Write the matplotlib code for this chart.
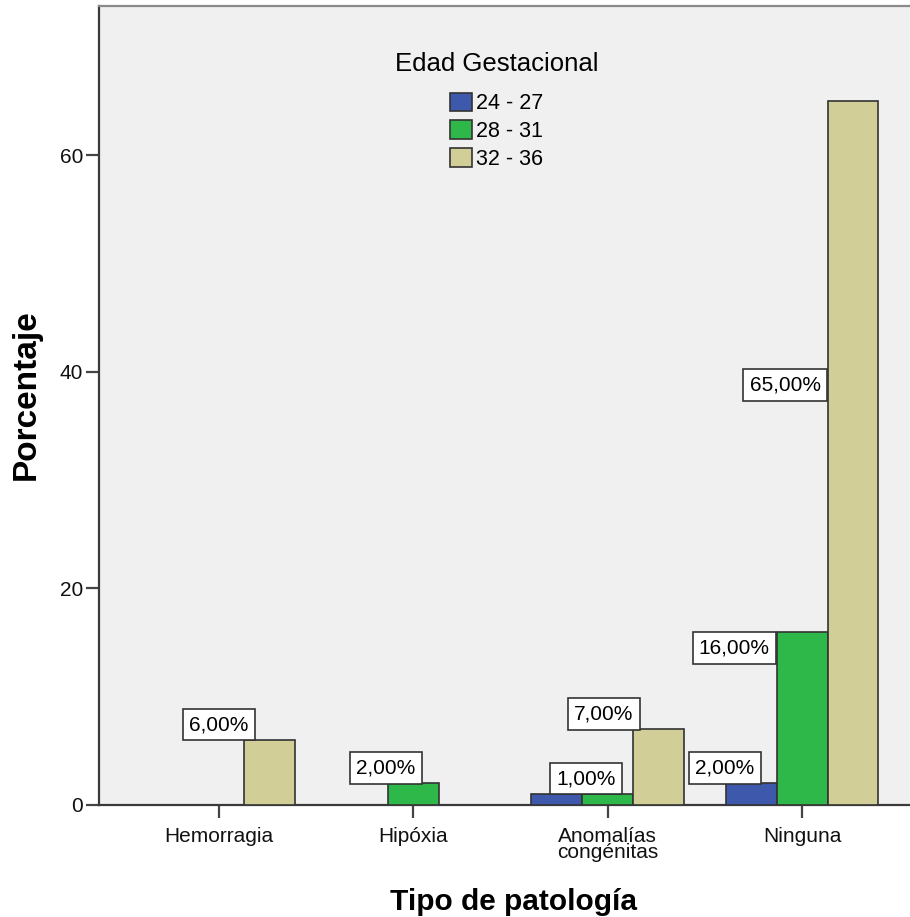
import numpy as np
import matplotlib.pyplot as plt

# Porcentaje de casos por tipo de patología y edad gestacional
patologias = ['Hemorragia', 'Hipóxia', 'Anomalías\ncongénitas', 'Ninguna']
grupos_edad = ['24 - 27', '28 - 31', '32 - 36']
pct_24_27 = [0, 0, 1, 2]
pct_28_31 = [0, 2, 1, 16]
pct_32_36 = [6, 0, 7, 65]

colores = ['#3e58ab', '#2eb84a', '#d2ce98']
FONDO = '#f0f0f0'
BORDE = '#333333'

plt.rcParams['font.family'] = ['Liberation Sans', 'DejaVu Sans']

fig = plt.figure(figsize=(9.1, 9.17), dpi=100)
W, H = 910, 917
# el eje derecho queda fuera del lienzo, como en la salida original
ax = fig.add_axes([99 / W, (H - 805) / H, (929 - 99) / W, (805 - 6) / H])
ax.set_facecolor(FONDO)

x = np.arange(len(patologias))
ancho = 0.262
series = [pct_24_27, pct_28_31, pct_32_36]

# colocación de las etiquetas: (desplazamiento x desde el borde izq. de la barra, modo)
# las etiquetas que se solapan con otra igual se omiten
ajustes = {
    (0, 2): (-0.13, 'encima'),
    (1, 1): (-0.01, 'encima'),
    (2, 0): (0.0, 'omitir'),
    (2, 1): (0.02, 'encima'),
    (2, 2): (-0.15, 'encima'),
    (3, 0): (-0.005, 'encima'),
    (3, 1): (0.0, 'lado'),
    (3, 2): (0.0, 'medio'),
}

for s, valores in enumerate(series):
    for i, v in enumerate(valores):
        if v <= 0:
            continue
        izq = x[i] + (s - 1) * ancho - ancho / 2
        ax.bar(izq, v, width=ancho, align='edge', color=colores[s],
               edgecolor=BORDE, linewidth=1.2, zorder=3)
        dx, modo = ajustes.get((i, s), (0.0, 'encima'))
        texto = f'{v:.2f}'.replace('.', ',') + '%'
        caja = dict(boxstyle='square,pad=0.3', facecolor='white',
                    edgecolor=BORDE, linewidth=1.2)
        if modo == 'encima':
            ax.text(izq + dx, v + 0.55, texto, ha='center', va='bottom',
                    fontsize=15, bbox=caja, zorder=4)
        elif modo == 'lado':
            ax.text(izq - 0.035, v - 0.6, texto, ha='right', va='top',
                    fontsize=15, bbox=caja, zorder=4)
        elif modo == 'medio':
            ax.text(izq - 0.035, v * 0.597, texto, ha='right', va='center',
                    fontsize=15, bbox=caja, zorder=4)

ax.set_xlim(-0.617, 3.653)
ax.set_ylim(0, 73.8)
ax.set_xticks(x)
ax.set_xticklabels(patologias, fontsize=15, linespacing=0.85)
ax.set_yticks([0, 20, 40, 60])
ax.tick_params(axis='both', direction='out', length=9.5, width=1.6,
               color='#444444', labelsize=15, labelcolor='#111111')
ax.tick_params(axis='x', pad=6)
ax.tick_params(axis='y', pad=2)

for lado in ['left', 'bottom']:
    ax.spines[lado].set_color('#3a3a3a')
    ax.spines[lado].set_linewidth(1.6)
ax.spines['top'].set_color('#8a8a8a')
ax.spines['top'].set_linewidth(1.6)
ax.spines['right'].set_visible(False)

ax.set_xlabel('Tipo de patología', fontsize=21.5, fontweight='bold')
ax.set_ylabel('Porcentaje', fontsize=24, fontweight='bold')
ax.xaxis.set_label_coords((514 - 99) / (929 - 99), -(888 - 805) / (805 - 6))
ax.yaxis.set_label_coords(-(99 - 42) / (929 - 99), (805 - 395) / (805 - 6))

handles = [plt.Rectangle((0, 0), 1, 1, facecolor=c, edgecolor=BORDE, linewidth=1.2)
           for c in colores]
leg = ax.legend(handles, grupos_edad, title='Edad Gestacional', frameon=False,
                loc='upper center', bbox_to_anchor=((497 - 99) / (929 - 99), (805 - 37) / (805 - 6)),
                fontsize=15.5, title_fontsize=18.5, handlelength=1.0, handleheight=0.95,
                handletextpad=0.2, labelspacing=0.28, borderpad=0.2)
leg._legend_box.sep = 12

fig.savefig('out.png', dpi=100, facecolor='white')
